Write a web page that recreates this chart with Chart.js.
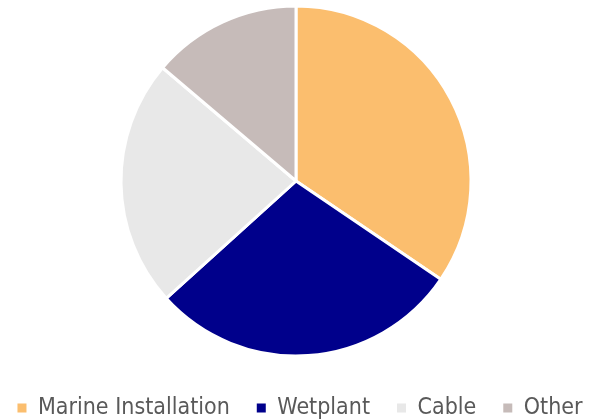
<!DOCTYPE html>
<html lang="en">
<head>
    <meta charset="UTF-8">
    <title>Pie</title>
    <script src="https://cdn.jsdelivr.net/npm/chart.js"></script>
    <style>
        html, body { margin: 0; padding: 0; background: #fff; }
        .box { width: 592px; height: 420px; }
    </style>
</head>
<body>
    <div class="box">
        <canvas id="myChart" width="592" height="420"></canvas>
    </div>
<script>
    // dados (%)
    let categorias = ['Marine Installation', 'Wetplant', 'Cable', 'Other'];
    let valores = [34.5, 28.8, 22.9, 13.8];
    let cores = ['#FBBE6E', '#00008B', '#E8E8E8', '#C6BBB9'];

    let dados = {
        labels: categorias,
        datasets: [{
            data: valores,
            backgroundColor: cores,
            borderColor: '#ffffff',
            borderWidth: 3,
            radius: 175
        }]
    };

    // quadradinhos da legenda sem a borda branca
    function legendaSemBorda(chart) {
        let itens = Chart.DoughnutController.overrides.plugins.legend.labels.generateLabels(chart);
        itens.forEach(function (item) { item.lineWidth = 0; });
        return itens;
    }

    const config = {
        type: 'pie',
        data: dados,
        options: {
            responsive: false,
            animation: false,
            layout: { padding: { top: 0, bottom: -9.5, left: -10, right: -18 } },
            plugins: {
                tooltip: { enabled: false },
                legend: {
                    position: 'bottom',
                    // titulo vazio so pra dar espaco entre a pizza e a legenda
                    title: { display: true, text: '', padding: 0, font: { size: 5, lineHeight: 1.5 } },
                    labels: {
                        boxWidth: 9,
                        boxHeight: 9,
                        padding: 27,
                        color: '#595959',
                        font: { family: 'DejaVu Sans Condensed, DejaVu Sans', size: 23 },
                        generateLabels: legendaSemBorda
                    }
                }
            }
        }
    };

    let myChart = new Chart(document.getElementById('myChart'), config);
</script>
</body>
</html>
